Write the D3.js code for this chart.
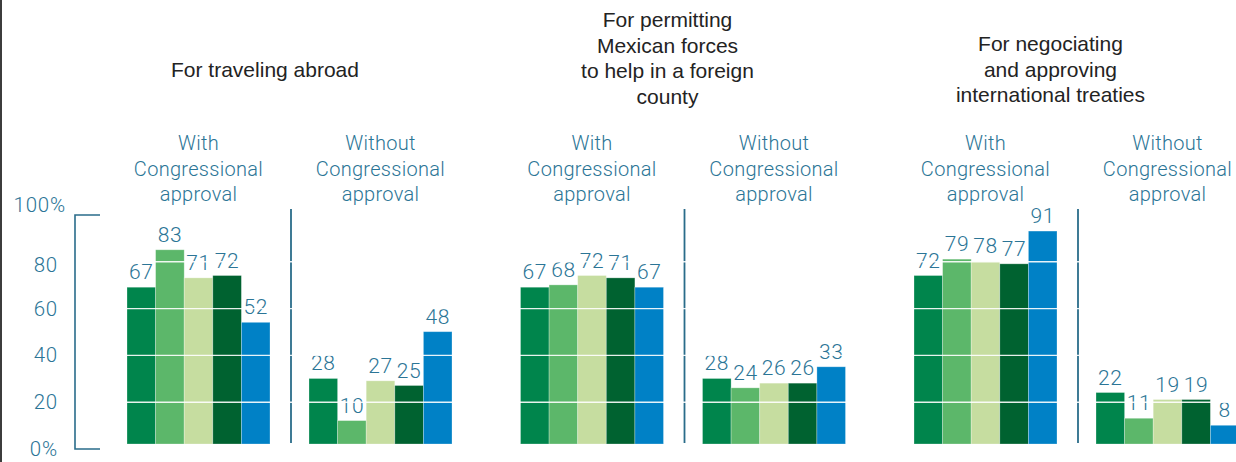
<!DOCTYPE html>
<html>
<head>
<meta charset="utf-8">
<script src="https://cdn.jsdelivr.net/npm/d3@7"></script>
<style>
  body { margin: 0; background: #fff; }
  svg { display: block; }
</style>
</head>
<body>
<svg id="chart" width="1236" height="462"></svg>
<script>
// ---- data ----
const topics = ["travel", "forces", "treaties"];
const topicTitles = [
  ["For traveling abroad"],
  ["For permitting", "Mexican forces", "to help in a foreign", "county"],
  ["For negociating", "and approving", "international treaties"]
];
const approvalGroups = ["With", "Without"];
const approvalLabels = [
  ["With", "Congressional", "approval"],
  ["Without", "Congressional", "approval"]
];
const seriesNames = ["s1", "s2", "s3", "s4", "s5"];
const travelWith      = [67, 83, 71, 72, 52];
const travelWithout   = [28, 10, 27, 25, 48];
const forcesWith      = [67, 68, 72, 71, 67];
const forcesWithout   = [28, 24, 26, 26, 33];
const treatiesWith    = [72, 79, 78, 77, 91];
const treatiesWithout = [22, 11, 19, 19, 8];
const yTicks = [0, 20, 40, 60, 80, 100];
const gridTicks = [20, 40, 60, 80];
const seriesColors = ["#00854c", "#5cb76a", "#c6dda0", "#006230", "#0081c6"];

const valuesByTopic = {
  travel:   { With: travelWith,   Without: travelWithout },
  forces:   { With: forcesWith,   Without: forcesWithout },
  treaties: { With: treatiesWith, Without: treatiesWithout }
};

// ---- layout ----
const W = 1236, H = 462;
const teal = "#2b7596";
const lineTeal = "#2a6c8a";
const lightFont = "Roboto, 'Open Sans', sans-serif";
const titleFont = "'Liberation Sans', Arial, sans-serif";
const titleFirstBaseline = [77, 27, 51];
const titleCenterOffset = [138, 147, 136.5];
const titleLineH = 25.5;
const axisShift = 5;

const svg = d3.select("#chart");

const y = d3.scaleLinear().domain([0, 100]).range([444, 210]);
const xPanel = d3.scaleBand().domain(topics).range([127, 127 + 3 * 393.5]);
const xSub = d3.scaleBand().domain(approvalGroups).range([0, 325]).paddingInner(0.2143);
const xSer = d3.scaleBand().domain(seriesNames).range([0, xSub.bandwidth()]);

// left border rule
svg.append("rect").attr("x", 0).attr("y", 0).attr("width", 2).attr("height", H).attr("fill", "#3c3c3c");

// ---- y axis ----
const axisG = svg.append("g")
  .attr("transform", `translate(58,${axisShift})`)
  .call(d3.axisLeft(y).tickValues(yTicks).tickSize(0).tickPadding(0)
    .tickFormat(d => (d === 0 || d === 100) ? d + "%" : d));
axisG.select(".domain").remove();
axisG.selectAll("text")
  .attr("fill", teal)
  .style("font-family", lightFont)
  .style("font-weight", 300)
  .style("font-size", "20.5px")
  .style("letter-spacing", "0.8px")
  .attr("transform", d => d === 100 ? "translate(8,-10)" : d === 80 ? "translate(0,3)" : null);

// bracket
svg.append("path")
  .attr("d", `M100,${y(100) + axisShift}H75V${y(0) + axisShift}H100`)
  .attr("fill", "none")
  .attr("stroke", lineTeal)
  .attr("stroke-width", 1.6);

// ---- panels ----
const panels = svg.selectAll("g.panel").data(topics).join("g")
  .attr("class", "panel")
  .attr("transform", d => `translate(${xPanel(d)},0)`);

// titles
panels.each(function (t, i) {
  const g = d3.select(this);
  const txt = g.append("text")
    .attr("text-anchor", "middle")
    .attr("fill", "#232323")
    .style("font-family", titleFont)
    .style("font-size", "21px");
  topicTitles[i].forEach((line, k) => {
    txt.append("tspan")
      .attr("x", titleCenterOffset[i])
      .attr("y", titleFirstBaseline[i] + k * titleLineH)
      .text(line);
  });
});

// dividers between with / without
panels.append("line")
  .attr("x1", xSub("Without") - 18).attr("x2", xSub("Without") - 18)
  .attr("y1", 209).attr("y2", y(0) - 1)
  .attr("stroke", lineTeal)
  .attr("stroke-width", 1.8);

const subs = panels.selectAll("g.sub")
  .data(t => approvalGroups.map((g, gi) => ({ topic: t, group: g, gi, values: valuesByTopic[t][g] })))
  .join("g")
  .attr("class", "sub")
  .attr("transform", d => `translate(${xSub(d.group)},0)`);

// sub headers
subs.each(function (d) {
  const txt = d3.select(this).append("text")
    .attr("text-anchor", "middle")
    .attr("fill", teal)
    .style("font-family", lightFont)
    .style("font-weight", 300)
    .style("font-size", "20px")
    .style("letter-spacing", "0.3px");
  approvalLabels[d.gi].forEach((line, k) => {
    txt.append("tspan")
      .attr("x", xSub.bandwidth() / 2)
      .attr("y", 150 + k * 25.5)
      .text(line);
  });
});

// bars
subs.selectAll("rect.bar")
  .data(d => d.values.map((v, i) => ({ v, s: seriesNames[i], i })))
  .join("rect")
  .attr("class", "bar")
  .attr("x", d => xSer(d.s))
  .attr("width", xSer.bandwidth())
  .attr("y", d => y(d.v))
  .attr("height", d => y(0) - y(d.v))
  .attr("fill", d => seriesColors[d.i])
  .attr("stroke", "rgba(255,255,255,0.35)")
  .attr("stroke-width", 0.8);

// white reference rules over the bars
svg.append("g").selectAll("line")
  .data(gridTicks)
  .join("line")
  .attr("x1", 110).attr("x2", W)
  .attr("y1", d => y(d) + axisShift).attr("y2", d => y(d) + axisShift)
  .attr("stroke", "rgba(255,255,255,0.9)")
  .attr("stroke-width", 1.4);

// value labels
subs.selectAll("text.val")
  .data(d => d.values.map((v, i) => ({ v, s: seriesNames[i] })))
  .join("text")
  .attr("class", "val")
  .attr("x", d => xSer(d.s) + xSer.bandwidth() / 2)
  .attr("y", d => y(d.v) - 8)
  .attr("text-anchor", "middle")
  .attr("fill", teal)
  .style("font-family", lightFont)
  .style("font-weight", 300)
  .style("font-size", "21px")
  .style("letter-spacing", "0.6px")
  .text(d => d.v);
</script>
</body>
</html>
